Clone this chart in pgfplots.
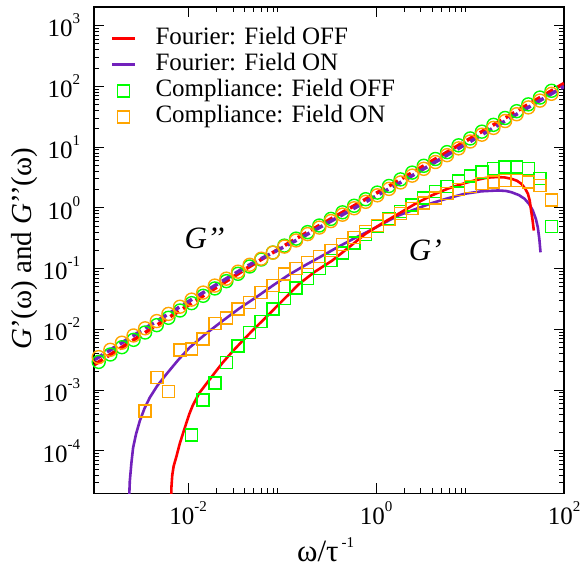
\documentclass[border=0pt]{standalone}
\usepackage{fontspec}
\setmainfont{Liberation Serif}
\usepackage{pgfplots}
\pgfplotsset{compat=1.18}
\usepackage{pgfplotstable}
\definecolor{gred}{RGB}{255,0,0}
\definecolor{ggreen}{RGB}{0,255,0}
\definecolor{gorange}{RGB}{255,165,0}
\definecolor{gindigo}{RGB}{114,33,188}
\newcommand\ep[1]{\raisebox{13pt}{\fontsize{15}{15}\selectfont #1}}
\pgfplotsset{
  lineleg/.style={legend image code/.code={\draw[##1] (0pt,0pt) -- (23pt,0pt);}},
  markleg/.style={legend image code/.code={\draw[##1] plot coordinates {(11.5pt,0pt)};}},
}

% Fourier G' (solid), log10 values
\pgfplotstableread{
lx ly
-2.183 -4.9
-2.179 -4.6
-2.170 -4.4
-2.155 -4.25
-2.127 -4.10
-2.090 -3.88
-2.045 -3.66
-1.990 -3.40
-1.951 -3.25
-1.883 -3.05
-1.809 -2.90
-1.720 -2.72
-1.633 -2.547
-1.520 -2.35
-1.422 -2.189
-1.310 -2.01
-1.210 -1.859
-1.120 -1.72
-1.033 -1.583
-0.920 -1.41
-0.821 -1.253
-0.650 -1.05
-0.468 -0.869
-0.290 -0.65
-0.115 -0.43
0.060 -0.26
0.238 -0.098
0.410 0.06
0.591 0.204
0.770 0.32
0.945 0.407
1.050 0.452
1.157 0.489
1.230 0.503
1.298 0.506
1.370 0.500
1.439 0.479
1.500 0.445
1.545 0.397
1.585 0.32
1.616 0.232
1.635 0.12
1.650 -0.044
1.665 -0.2
1.679 -0.374
}\fourOFF
\pgfplotstableread{
lx ly
-2.631 -4.9
-2.627 -4.7
-2.622 -4.499
-2.605 -4.2
-2.587 -3.950
-2.555 -3.72
-2.516 -3.509
-2.465 -3.30
-2.410 -3.125
-2.330 -2.93
-2.233 -2.739
-2.110 -2.51
-1.986 -2.300
-1.810 -2.07
-1.633 -1.859
-1.460 -1.66
-1.280 -1.475
-1.100 -1.28
-0.927 -1.100
-0.750 -0.94
-0.574 -0.79
-0.400 -0.64
-0.230 -0.50
-0.060 -0.37
0.090 -0.245
0.238 -0.126
0.420 -0.02
0.591 0.077
0.770 0.16
0.945 0.232
1.120 0.272
1.298 0.286
1.380 0.278
1.439 0.258
1.520 0.21
1.580 0.149
1.630 0.06
1.668 -0.044
1.700 -0.18
1.721 -0.319
1.738 -0.52
1.750 -0.732
}\fourON
% Fourier G'' (dashed)
\pgfplotstableread{
lx ly
-3.000 -2.583
-2.000 -1.604
-1.361 -0.979
-0.856 -0.511
0.273 0.479
1.000 1.140
2.000 2.048
}\fourOFFpp
\pgfplotstableread{
lx ly
-3.000 -2.503
-2.000 -1.544
-1.361 -0.949
-0.856 -0.541
0.273 0.429
1.000 1.090
2.000 1.998
}\fourONpp
% Compliance G'' (circles)
\pgfplotstableread{
lx ly
-2.953 -2.536
-2.829 -2.414
-2.706 -2.294
-2.582 -2.173
-2.459 -2.052
-2.335 -1.931
-2.211 -1.810
-2.088 -1.690
-1.964 -1.569
-1.841 -1.448
-1.717 -1.327
-1.594 -1.207
-1.470 -1.086
-1.346 -0.965
-1.223 -0.851
-1.099 -0.736
-0.976 -0.622
-0.852 -0.507
-0.729 -0.400
-0.605 -0.291
-0.481 -0.182
-0.358 -0.074
-0.234 0.034
-0.111 0.142
0.013 0.251
0.137 0.360
0.260 0.468
0.384 0.580
0.507 0.692
0.631 0.804
0.755 0.917
0.878 1.029
1.002 1.142
1.126 1.254
1.249 1.366
1.373 1.479
1.496 1.591
1.620 1.703
1.744 1.815
1.867 1.927
}\compOFFpp
\pgfplotstableread{
lx ly
-2.953 -2.457
-2.829 -2.337
-2.706 -2.220
-2.582 -2.101
-2.459 -1.983
-2.335 -1.864
-2.211 -1.746
-2.088 -1.628
-1.964 -1.511
-1.841 -1.395
-1.717 -1.280
-1.594 -1.166
-1.470 -1.051
-1.346 -0.937
-1.223 -0.837
-1.099 -0.737
-0.976 -0.638
-0.852 -0.537
-0.729 -0.432
-0.605 -0.325
-0.481 -0.218
-0.358 -0.113
-0.234 -0.007
-0.111 0.099
0.013 0.206
0.137 0.312
0.260 0.418
0.384 0.530
0.507 0.642
0.631 0.754
0.755 0.867
0.878 0.979
1.002 1.092
1.126 1.204
1.249 1.316
1.373 1.429
1.496 1.541
1.620 1.653
1.744 1.765
1.867 1.877
}\compONpp
% Compliance G' (squares)
\pgfplotstableread{
lx ly
-1.964 -3.740
-1.841 -3.163
-1.717 -2.887
-1.594 -2.547
-1.470 -2.272
-1.346 -2.052
-1.223 -1.871
-1.099 -1.666
-0.976 -1.496
-0.852 -1.32
-0.729 -1.16
-0.605 -1.00
-0.481 -0.87
-0.358 -0.74
-0.234 -0.58
-0.111 -0.44
0.013 -0.31
0.137 -0.18
0.260 -0.06
0.384 0.05
0.507 0.16
0.631 0.27
0.755 0.35
0.878 0.44
1.002 0.52
1.126 0.588
1.249 0.644
1.373 0.671
1.496 0.671
1.620 0.644
1.744 0.479
1.867 -0.308
}\compOFF
\pgfplotstableread{
lx ly
-2.459 -3.344
-2.335 -2.795
-2.211 -3.026
-2.088 -2.343
-1.964 -2.326
-1.841 -2.161
-1.717 -1.904
-1.594 -1.815
-1.470 -1.666
-1.346 -1.557
-1.223 -1.392
-1.099 -1.281
-0.976 -1.088
-0.852 -1.00
-0.729 -0.90
-0.605 -0.80
-0.481 -0.70
-0.358 -0.60
-0.234 -0.49
-0.111 -0.39
0.013 -0.29
0.137 -0.19
0.260 -0.09
0.384 -0.01
0.507 0.08
0.631 0.16
0.755 0.24
0.878 0.30
1.002 0.35
1.126 0.397
1.249 0.423
1.373 0.451
1.496 0.451
1.620 0.423
1.744 0.368
1.867 0.133
}\compON

\begin{document}
\begin{tikzpicture}
\begin{axis}[
  xmode=log, ymode=log,
  scale only axis, width=469.7pt, height=486pt,
  xmin=1e-3, xmax=1e2, ymin=2e-5, ymax=2e3,
  xtick={1e-2,1,1e2},
  xticklabels={10\ep{-2},10\ep{0},10\ep{2}},
  minor xtick={0.02,0.03,0.04,0.05,0.06,0.07,0.08,0.09,2,3,4,5,6,7,8,9},
  ytick={1e-4,1e-3,1e-2,1e-1,1,1e1,1e2,1e3},
  yticklabels={10\ep{-4},10\ep{-3},10\ep{-2},10\ep{-1},10\ep{0},10\ep{1},10\ep{2},10\ep{3}},
  minor ytick={2e-5,3e-5,4e-5,5e-5,6e-5,7e-5,8e-5,9e-5,
    2e-4,3e-4,4e-4,5e-4,6e-4,7e-4,8e-4,9e-4,
    2e-3,3e-3,4e-3,5e-3,6e-3,7e-3,8e-3,9e-3,
    2e-2,3e-2,4e-2,5e-2,6e-2,7e-2,8e-2,9e-2,
    0.2,0.3,0.4,0.5,0.6,0.7,0.8,0.9,
    2,3,4,5,6,7,8,9,
    20,30,40,50,60,70,80,90,
    200,300,400,500,600,700,800,900},
  tick align=inside,
  major tick length=10pt, minor tick length=5pt,
  every tick/.style={black, line width=0.9pt},
  axis line style={line width=1.6pt},
  ticklabel style={font=\fontsize{25}{25}\selectfont, inner sep=0pt},
  xticklabel style={anchor=north, yshift=-8pt},
  yticklabel style={anchor=east, xshift=-14pt},
  xlabel={ω/τ},
  xlabel style={at={(axis description cs:0.4316,-0.1393)}, anchor=base west, font=\fontsize{31}{31}\selectfont, inner sep=0pt},
  ylabel={\textit{G}’(ω) and \textit{G}’’(ω)},
  ylabel style={at={(axis description cs:-0.1475,0.503)}, anchor=center, font=\fontsize{29}{29}\selectfont},
  legend style={at={(axis description cs:0.035,0.9595)}, anchor=north west, draw=none, fill=none,
    font=\fontsize{25}{25}\selectfont, inner sep=0pt, row sep=3.7pt,
    nodes={inner sep=0pt, text height=17pt, text depth=5.5pt},
    /tikz/every odd column/.append style={column sep=19pt}},
  legend cell align=left,
]
\addlegendimage{lineleg, gred, line width=2.6pt}
\addlegendentry{Fourier: Field OFF}
\addlegendimage{lineleg, gindigo, line width=2.6pt}
\addlegendentry{Fourier: Field ON}
\addlegendimage{markleg, only marks, mark=square, ggreen, mark size=6pt, line width=1.5pt}
\addlegendentry{Compliance: Field OFF}
\addlegendimage{markleg, only marks, mark=square, gorange, mark size=6pt, line width=1.5pt}
\addlegendentry{Compliance: Field ON}

\addplot[forget plot, only marks, mark=o, mark size=6.5pt, ggreen, line width=1.4pt]
  table[x expr=10^\thisrow{lx}, y expr=10^\thisrow{ly}] {\compOFFpp};
\addplot[forget plot, only marks, mark=o, mark size=6.5pt, gorange, line width=1.4pt]
  table[x expr=10^\thisrow{lx}, y expr=10^\thisrow{ly}] {\compONpp};
\addplot[forget plot, only marks, mark=square, mark size=6pt, ggreen, line width=1.5pt]
  table[x expr=10^\thisrow{lx}, y expr=10^\thisrow{ly}] {\compOFF};
\addplot[forget plot, only marks, mark=square, mark size=6pt, gorange, line width=1.5pt]
  table[x expr=10^\thisrow{lx}, y expr=10^\thisrow{ly}] {\compON};
\addplot[forget plot, no marks, gindigo, line width=2.6pt]
  table[x expr=10^\thisrow{lx}, y expr=10^\thisrow{ly}] {\fourON};
\addplot[forget plot, no marks, gred, line width=2.6pt]
  table[x expr=10^\thisrow{lx}, y expr=10^\thisrow{ly}] {\fourOFF};
\addplot[forget plot, no marks, gred, line width=3.5pt, dash pattern=on 10pt off 5pt]
  table[x expr=10^\thisrow{lx}, y expr=10^\thisrow{ly}] {\fourOFFpp};
\addplot[forget plot, no marks, gindigo, line width=3.5pt, dash pattern=on 10pt off 5pt]
  table[x expr=10^\thisrow{lx}, y expr=10^\thisrow{ly}] {\fourONpp};

\node[font=\fontsize{31}{31}\selectfont] at (axis cs:0.0149,0.32) {\textit{G’’}};
\node[font=\fontsize{31}{31}\selectfont] at (axis cs:3.34,0.198) {\textit{G’}};
\end{axis}
\node[anchor=base west, inner sep=0pt, font=\fontsize{15}{15}\selectfont]
  at ([xshift=247.2pt,yshift=-54.7pt]current axis.south west) {-1};
\pgfresetboundingbox
\path[use as bounding box] ([xshift=-94.3pt,yshift=7.3pt]current axis.north west) rectangle ([xshift=16pt,yshift=-75.7pt]current axis.south east);
\end{tikzpicture}
\end{document}
